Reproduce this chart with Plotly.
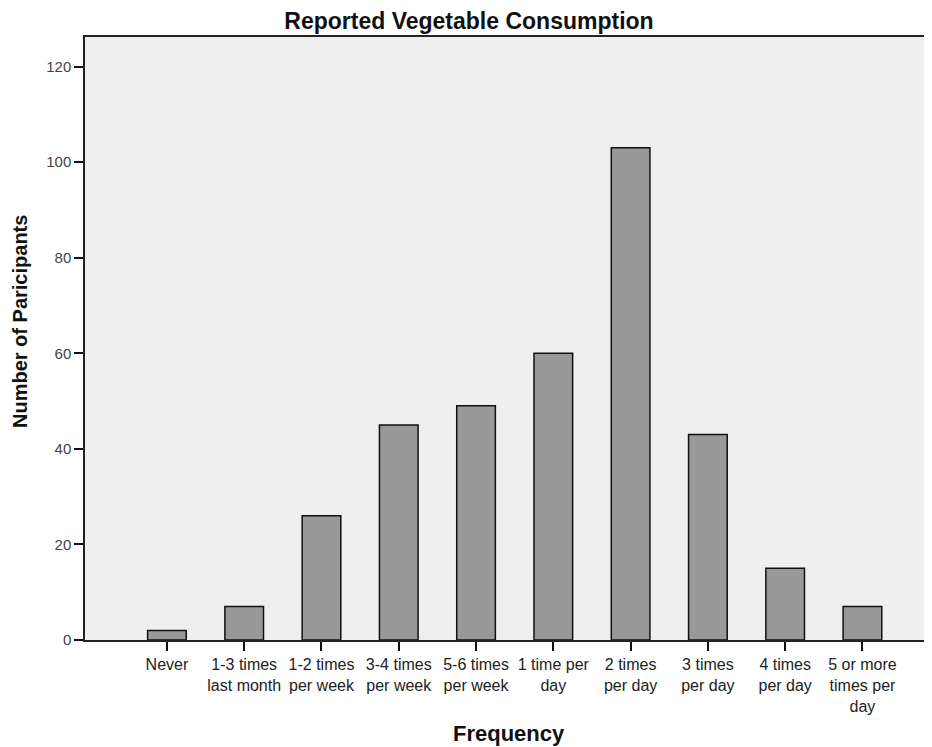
import plotly.graph_objects as go

categories = ["Never", "1-3 times<br>last month", "1-2 times<br>per week", "3-4 times<br>per week",
              "5-6 times<br>per week", "1 time per<br>day", "2 times<br>per day", "3 times<br>per day",
              "4 times<br>per day", "5 or more<br>times per<br>day"]
participants = [2, 7, 26, 45, 49, 60, 103, 43, 15, 7]
y_ticks = [0, 20, 40, 60, 80, 100, 120]

fig = go.Figure(go.Bar(
    x=categories, y=participants, width=0.5,
    marker=dict(color="#999999", line=dict(color="#111111", width=1.5)),
))

# the page body has an 8px default margin; compensate so the figure fills 932x747
OFF = 8
W, H = 932 - OFF, 747 - OFF
PL, PT, PB = 85, 37, 640  # plot edges in window pixels
fig.update_layout(
    width=W, height=H,
    margin=dict(l=PL - OFF, r=0, t=PT - OFF, b=H + OFF - PB, pad=0),
    paper_bgcolor="white", plot_bgcolor="#efefef",
    showlegend=False,
    font=dict(family="Liberation Sans, Arial, sans-serif", color="#222"),
    title=dict(text="<b>Reported Vegetable Consumption</b>", x=(469 - OFF) / W, xref="container",
               xanchor="center", y=1 - (21 - OFF) / H, yref="container", yanchor="middle",
               font=dict(size=23, color="#111")),
)
fig.update_xaxes(
    type="category", range=[-1.06, 9.9],
    showline=True, linecolor="#222", linewidth=1.5, mirror=True,
    ticks="outside", ticklen=9, tickwidth=2, tickcolor="#111",
    tickfont=dict(size=16, color="#222"), tickangle=0, showgrid=False,
)
fig.update_yaxes(
    range=[0, 126.2], tickvals=y_ticks,
    showline=True, linecolor="#222", linewidth=1.5,
    ticks="outside", ticklen=9, tickwidth=2, tickcolor="#111",
    tickfont=dict(size=15, color="#444"), showgrid=False, zeroline=False,
)
PW, PH = 932 - PL, PB - PT
fig.add_annotation(text="<b>Frequency</b>", xref="paper", yref="paper",
                   x=0.5, y=-(733 - PB) / PH, xanchor="center", yanchor="middle",
                   showarrow=False, font=dict(size=22, color="#111"))
fig.add_annotation(text="<b>Number of Paricipants</b>", xref="paper", yref="paper",
                   x=-(PL - 20) / PW, y=(PB - 322) / PH, xanchor="center", yanchor="middle",
                   textangle=-90, showarrow=False, font=dict(size=20, color="#111"))

fig.write_html("out.html")
